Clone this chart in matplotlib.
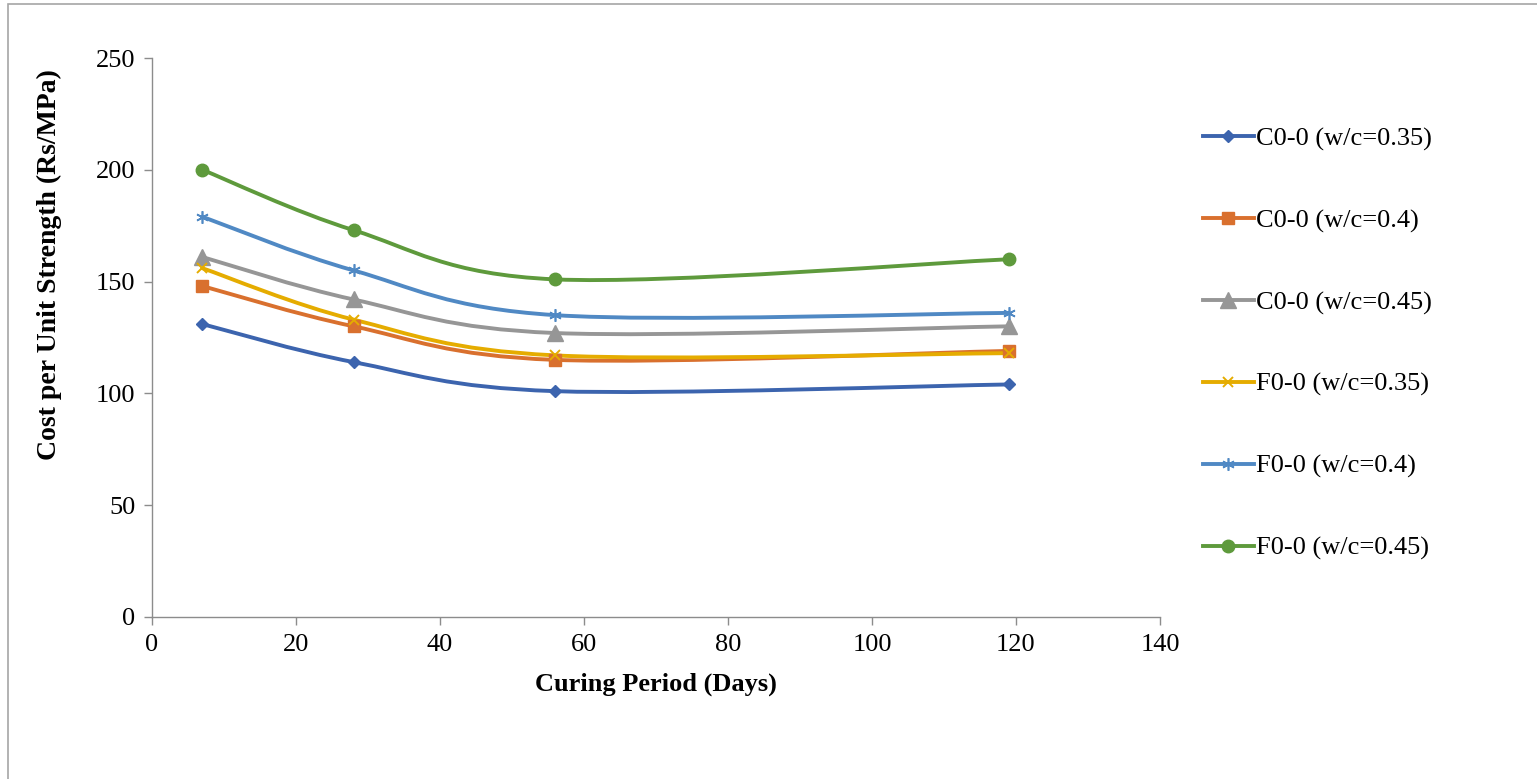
import numpy as np
import matplotlib
matplotlib.use("Agg")
import matplotlib.pyplot as plt
from matplotlib.path import Path
from matplotlib.patches import PathPatch, Rectangle
from matplotlib.lines import Line2D

plt.rcParams["font.family"] = ["Liberation Serif", "DejaVu Serif"]

# curing period (days)
days = [7, 28, 56, 119]

# cost per unit strength (Rs/MPa)
c00_035 = [131, 114, 101, 104]
c00_040 = [148, 130, 115, 119]
c00_045 = [161, 142, 127, 130]
f00_035 = [156, 133, 117, 118]
f00_040 = [179, 155, 135, 136]
f00_045 = [200, 173, 151, 160]

labels = [
    "C0-0 (w/c=0.35)",
    "C0-0 (w/c=0.4)",
    "C0-0 (w/c=0.45)",
    "F0-0 (w/c=0.35)",
    "F0-0 (w/c=0.4)",
    "F0-0 (w/c=0.45)",
]
series = [c00_035, c00_040, c00_045, f00_035, f00_040, f00_045]
colors = ["#3C64AE", "#D9702E", "#969696", "#E5AC00", "#5089C4", "#5E9A3C"]
markers = ["D", "s", "^", "x", (6, 2, 0), "o"]
msizes = [6, 8, 11, 7, 9, 9]
medges = [1.0, 1.0, 1.0, 1.4, 1.2, 1.0]


def smooth_path(xs, ys):
    # excel-like smoothed line: catmull-rom segments as cubic beziers
    pts = np.column_stack([xs, ys]).astype(float)
    ext = np.vstack([pts[0], pts, pts[-1]])
    verts = [tuple(pts[0])]
    codes = [Path.MOVETO]
    for i in range(1, len(ext) - 2):
        p0, p1, p2, p3 = ext[i - 1], ext[i], ext[i + 1], ext[i + 2]
        c1 = p1 + (p2 - p0) / 6.0
        c2 = p2 - (p3 - p1) / 6.0
        verts += [tuple(c1), tuple(c2), tuple(p2)]
        codes += [Path.CURVE4] * 3
    return Path(verts, codes)


fig = plt.figure(figsize=(15.37, 7.79), dpi=100)
ax = fig.add_axes([0.0989, 0.208, 0.6558, 0.7175])

handles = []
for vals, lab, col, mk, ms, mew in zip(series, labels, colors, markers, msizes, medges):
    patch = PathPatch(smooth_path(days, vals), facecolor="none", edgecolor=col,
                      lw=2.8, capstyle="round", joinstyle="round", zorder=2)
    ax.add_patch(patch)
    ax.plot(days, vals, linestyle="none", marker=mk, markersize=ms, color=col,
            markeredgewidth=mew, zorder=3)
    handles.append(Line2D([], [], color=col, lw=2.8, marker=mk, markersize=ms,
                          markeredgewidth=mew, label=lab))

ax.set_xlim(0, 140)
ax.set_ylim(0, 250)
ax.set_xticks(np.arange(0, 141, 20))
ax.set_yticks(np.arange(0, 251, 50))

for side in ["top", "right"]:
    ax.spines[side].set_visible(False)
for side in ["left", "bottom"]:
    ax.spines[side].set_color("#8C8C8C")
    ax.spines[side].set_linewidth(1.0)
ax.tick_params(axis="both", direction="out", length=6, width=1.0,
               color="#8C8C8C", labelsize=19, pad=6)

ax.set_xlabel("Curing Period (Days)", fontsize=19, fontweight="bold", labelpad=12)
ax.set_ylabel("Cost per Unit Strength (Rs/MPa)", fontsize=20, fontweight="bold")
ax.yaxis.set_label_coords(-0.089, 0.63)

fig.legend(handles=handles, loc="center left", bbox_to_anchor=(0.7673, 0.559),
           frameon=False, fontsize=19, handlelength=1.92, handletextpad=0.1,
           labelspacing=2.2, numpoints=1)

# outer chart border (top and left visible)
fig.patches.append(Rectangle((8 / 1537, -0.1), 1.2, 1.1 - 4 / 779,
                             transform=fig.transFigure, fill=False,
                             edgecolor="#A6A6A6", lw=1.2))

fig.savefig("out.png", dpi=100)
